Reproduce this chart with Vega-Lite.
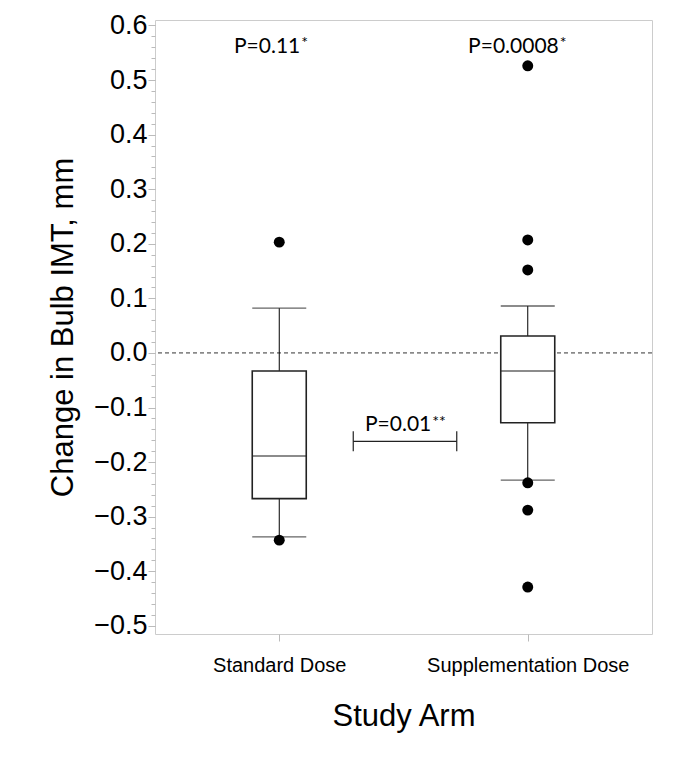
{
  "$schema": "https://vega.github.io/schema/vega-lite/v6.json",
  "autosize": "none",
  "width": 497,
  "height": 614,
  "padding": {"left": 155, "top": 20, "right": 25, "bottom": 129},
  "background": "white",
  "config": {
    "view": {"stroke": "#cccccc", "strokeWidth": 1},
    "font": "Liberation Sans"
  },
  "datasets": {
    "stats": [
      {"arm": "Standard Dose", "lower": -0.337, "q1": -0.267, "median": -0.189, "q3": -0.033, "upper": 0.082},
      {"arm": "Supplementation Dose", "lower": -0.233, "q1": -0.128, "median": -0.033, "q3": 0.031, "upper": 0.086}
    ],
    "outliers": [
      {"arm": "Standard Dose", "value": 0.203},
      {"arm": "Standard Dose", "value": -0.343},
      {"arm": "Supplementation Dose", "value": 0.526},
      {"arm": "Supplementation Dose", "value": 0.207},
      {"arm": "Supplementation Dose", "value": 0.152},
      {"arm": "Supplementation Dose", "value": -0.238},
      {"arm": "Supplementation Dose", "value": -0.288},
      {"arm": "Supplementation Dose", "value": -0.429}
    ],
    "pvals": [
      {"arm": "Standard Dose", "label": "P=0.11", "star": "*", "y": 0.549},
      {"arm": "Supplementation Dose", "label": "P=0.0008", "star": "*", "y": 0.549}
    ],
    "comparison": [
      {"from": "Standard Dose", "to": "Supplementation Dose", "label": "P=0.01", "star": "**", "y": -0.162}
    ],
    "zero": [{"y": 0}]
  },
  "resolve": {"axis": {"y": "independent"}},
  "layer": [
    {
      "data": {"name": "zero"},
      "mark": {"type": "rule", "color": "#333333", "strokeDash": [4, 3], "strokeWidth": 1},
      "encoding": {
        "y": {
          "field": "y",
          "type": "quantitative",
          "scale": {"domain": [-0.515, 0.61], "nice": false, "zero": false},
          "axis": {
            "orient": "left",
            "title": null,
            "labels": false,
            "values": [-0.5, -0.48, -0.46, -0.44, -0.42, -0.4, -0.38, -0.36, -0.34, -0.32, -0.3, -0.28, -0.26, -0.24, -0.22, -0.2, -0.18, -0.16, -0.14, -0.12, -0.1, -0.08, -0.06, -0.04, -0.02, 0, 0.02, 0.04, 0.06, 0.08, 0.1, 0.12, 0.14, 0.16, 0.18, 0.2, 0.22, 0.24, 0.26, 0.28, 0.3, 0.32, 0.34, 0.36, 0.38, 0.4, 0.42, 0.44, 0.46, 0.48, 0.5, 0.52, 0.54, 0.56, 0.58, 0.6],
            "tickSize": 4,
            "tickColor": "#bbbbbb",
            "domain": false,
            "grid": false
          }
        }
      }
    },
    {
      "encoding": {
        "x": {
          "field": "arm",
          "type": "nominal",
          "scale": {"type": "point", "padding": 0.5, "domain": ["Standard Dose", "Supplementation Dose"]},
          "axis": {
            "title": "Study Arm",
            "titleFontSize": 31,
            "titleFontWeight": "normal",
            "titleColor": "black",
            "titlePadding": 26,
            "labelFontSize": 20,
            "labelColor": "black",
            "labelAngle": 0,
            "labelPadding": 14,
            "labelLimit": 400,
            "labelOverlap": false,
            "tickSize": 7,
            "tickColor": "#bbbbbb",
            "domain": false,
            "grid": false
          }
        }
      },
      "layer": [
        {
          "data": {"name": "stats"},
          "mark": {"type": "rule", "color": "black", "strokeWidth": 1},
          "encoding": {
            "y": {
              "field": "lower",
              "type": "quantitative",
              "axis": {
                "orient": "left",
                "title": "Change in Bulb IMT, mm",
                "titleFontSize": 31,
                "titleFontWeight": "normal",
                "titleColor": "black",
                "titlePadding": 14,
                "values": [-0.5, -0.4, -0.3, -0.2, -0.1, 0, 0.1, 0.2, 0.3, 0.4, 0.5, 0.6],
                "format": ".1f",
                "labelOverlap": false,
                "labelFontSize": 27,
                "labelColor": "black",
                "labelPadding": 1,
                "tickSize": 7,
                "tickColor": "#bbbbbb",
                "domain": false,
                "grid": false
              }
            },
            "y2": {"field": "q1"}
          }
        },
        {
          "data": {"name": "stats"},
          "mark": {"type": "rule", "color": "black", "strokeWidth": 1},
          "encoding": {"y": {"field": "q3", "type": "quantitative"}, "y2": {"field": "upper"}}
        },
        {
          "data": {"name": "stats"},
          "mark": {"type": "bar", "size": 54, "fill": "white", "stroke": "#222222", "strokeWidth": 1.6},
          "encoding": {"y": {"field": "q1", "type": "quantitative"}, "y2": {"field": "q3"}}
        },
        {
          "data": {"name": "stats"},
          "mark": {"type": "tick", "size": 54, "thickness": 1.5, "color": "#222222"},
          "encoding": {"y": {"field": "median", "type": "quantitative"}}
        },
        {
          "data": {"name": "stats"},
          "mark": {"type": "tick", "size": 54, "thickness": 1.3, "color": "#222222"},
          "encoding": {"y": {"field": "lower", "type": "quantitative"}}
        },
        {
          "data": {"name": "stats"},
          "mark": {"type": "tick", "size": 54, "thickness": 1.3, "color": "#222222"},
          "encoding": {"y": {"field": "upper", "type": "quantitative"}}
        },
        {
          "data": {"name": "outliers"},
          "mark": {"type": "point", "filled": true, "color": "black", "opacity": 1, "size": 120},
          "encoding": {"y": {"field": "value", "type": "quantitative"}}
        },
        {
          "data": {"name": "pvals"},
          "mark": {"type": "text", "font": "Lato", "fontSize": 21, "align": "right", "baseline": "alphabetic", "dx": 21, "color": "black"},
          "transform": [{"filter": "datum.arm === 'Standard Dose'"}],
          "encoding": {"y": {"field": "y", "type": "quantitative"}, "text": {"field": "label"}}
        },
        {
          "data": {"name": "pvals"},
          "mark": {"type": "text", "font": "Lato", "fontSize": 16, "align": "left", "baseline": "top", "dx": 22, "dy": -18, "color": "black"},
          "transform": [{"filter": "datum.arm === 'Standard Dose'"}],
          "encoding": {"y": {"field": "y", "type": "quantitative"}, "text": {"field": "star"}}
        },
        {
          "data": {"name": "pvals"},
          "mark": {"type": "text", "font": "Lato", "fontSize": 21, "align": "right", "baseline": "alphabetic", "dx": 31, "color": "black"},
          "transform": [{"filter": "datum.arm === 'Supplementation Dose'"}],
          "encoding": {"y": {"field": "y", "type": "quantitative"}, "text": {"field": "label"}}
        },
        {
          "data": {"name": "pvals"},
          "mark": {"type": "text", "font": "Lato", "fontSize": 16, "align": "left", "baseline": "top", "dx": 32, "dy": -18, "color": "black"},
          "transform": [{"filter": "datum.arm === 'Supplementation Dose'"}],
          "encoding": {"y": {"field": "y", "type": "quantitative"}, "text": {"field": "star"}}
        },
        {
          "data": {"name": "comparison"},
          "mark": {"type": "rule", "color": "#222222", "strokeWidth": 1.2, "xOffset": 74, "x2Offset": -71},
          "encoding": {
            "x": {"field": "from", "type": "nominal"},
            "x2": {"field": "to"},
            "y": {"field": "y", "type": "quantitative"}
          }
        },
        {
          "data": {"name": "comparison"},
          "mark": {"type": "rule", "color": "#222222", "strokeWidth": 1.2, "xOffset": 74, "yOffset": -10, "y2Offset": 10},
          "encoding": {
            "x": {"field": "from", "type": "nominal"},
            "y": {"field": "y", "type": "quantitative"},
            "y2": {"field": "y"}
          }
        },
        {
          "data": {"name": "comparison"},
          "mark": {"type": "rule", "color": "#222222", "strokeWidth": 1.2, "xOffset": -71, "yOffset": -10, "y2Offset": 10},
          "encoding": {
            "x": {"field": "to", "type": "nominal"},
            "y": {"field": "y", "type": "quantitative"},
            "y2": {"field": "y"}
          }
        },
        {
          "data": {"name": "comparison"},
          "mark": {"type": "text", "font": "Lato", "fontSize": 21, "align": "right", "baseline": "alphabetic", "dx": 152, "dy": -10, "color": "black"},
          "encoding": {
            "x": {"field": "from", "type": "nominal"},
            "y": {"field": "y", "type": "quantitative"},
            "text": {"field": "label"}
          }
        },
        {
          "data": {"name": "comparison"},
          "mark": {"type": "text", "font": "Lato", "fontSize": 16, "align": "left", "baseline": "top", "dx": 153, "dy": -27, "color": "black"},
          "encoding": {
            "x": {"field": "from", "type": "nominal"},
            "y": {"field": "y", "type": "quantitative"},
            "text": {"field": "star"}
          }
        }
      ]
    }
  ]
}
